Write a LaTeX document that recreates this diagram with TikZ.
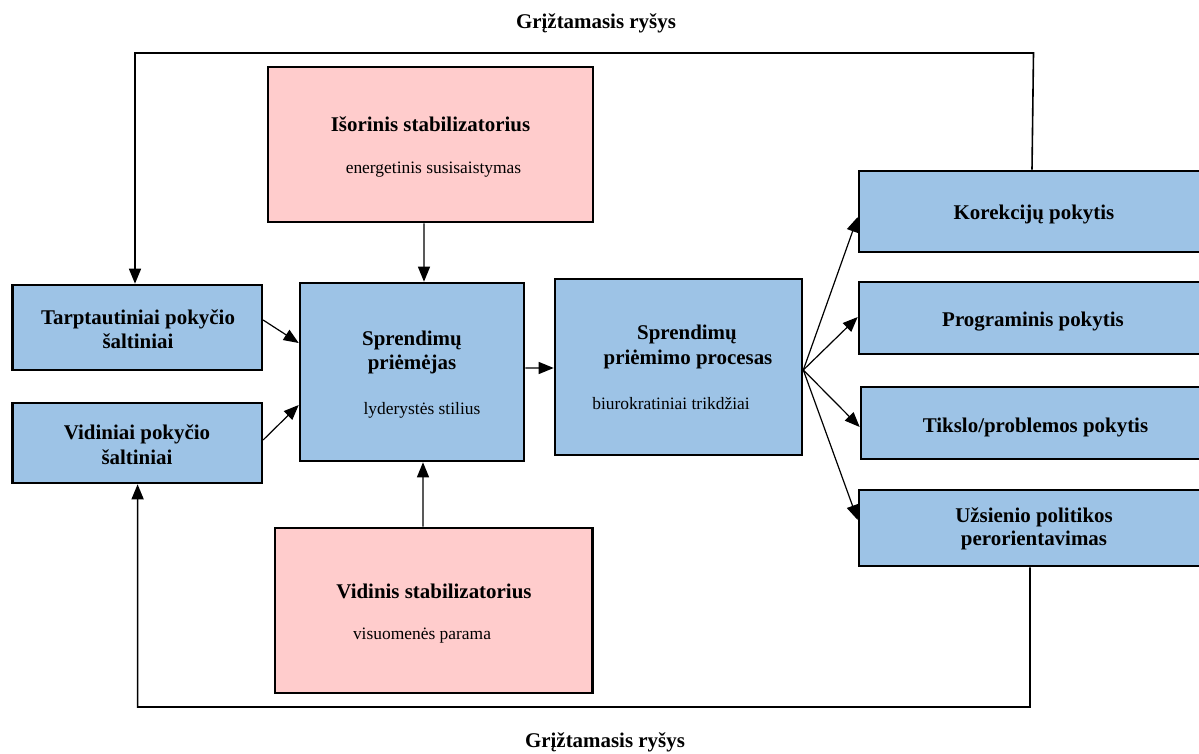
\documentclass[tikz,border=0pt]{standalone}
\usepackage{fontspec}
\setmainfont{Liberation Serif}
\usetikzlibrary{arrows.meta}
\definecolor{boxblue}{RGB}{157,195,230}
\definecolor{boxpink}{RGB}{255,204,204}
\tikzset{
  bluebox/.style={draw=black, line width=2.6bp, fill=boxblue, inner sep=0pt},
  pinkbox/.style={draw=black, line width=2.6bp, fill=boxpink, inner sep=0pt},
  ttl/.style={font=\fontsize{21}{24}\selectfont\bfseries, inner sep=0pt, anchor=base},
  sub/.style={font=\fontsize{17.5}{20}\selectfont, inner sep=0pt, anchor=base},
  arr/.style={line width=1.2bp, -{Triangle[length=15bp,width=12bp]}},
  fbline/.style={line width=1.6bp, -{Triangle[length=15bp,width=12bp]}}
}
\begin{document}
\begin{tikzpicture}[x=1bp,y=-1bp]
\clip (0,0) rectangle (1199,754);
\fill[white] (0,0) rectangle (1199,754);

% boxes
\node[pinkbox, minimum width=325bp, minimum height=155bp] (isor) at (430.5,144.5) {};
\node[bluebox, minimum width=249bp, minimum height=85bp] (tarp) at (137.3,327.5) {};
\node[bluebox, minimum width=249bp, minimum height=80bp] (vidp) at (137.3,443) {};
\node[bluebox, minimum width=224bp, minimum height=178bp] (prie) at (412,372) {};
\node[bluebox, minimum width=247bp, minimum height=176bp] (proc) at (678.5,367) {};
\node[pinkbox, minimum width=317.5bp, minimum height=165bp] (vids) at (433.75,610.5) {};
\node[bluebox, minimum width=350bp, minimum height=81bp] (kor) at (1034,211.5) {};
\node[bluebox, minimum width=350bp, minimum height=72bp] (prog) at (1034,318) {};
\node[bluebox, minimum width=348bp, minimum height=72bp] (tiks) at (1035,423) {};
\node[bluebox, minimum width=350bp, minimum height=76bp] (uzs) at (1034,528) {};

% texts
\node[ttl] (tfbtop) at (596,29) {Grįžtamasis ryšys};
\node[ttl] (tfbbot) at (605,747) {Grįžtamasis ryšys};
\node[ttl] (tisor) at (430.5,131) {Išorinis stabilizatorius};
\node[sub] (sisor) at (433.5,173) {energetinis susisaistymas};
\node[ttl] (ttarp1) at (138,324) {Tarptautiniai pokyčio};
\node[ttl] (ttarp2) at (138,348) {šaltiniai};
\node[ttl] (tvidp1) at (137,439) {Vidiniai pokyčio};
\node[ttl] (tvidp2) at (137,464) {šaltiniai};
\node[ttl] (tprie1) at (412,345) {Sprendimų};
\node[ttl] (tprie2) at (412,369) {priėmėjas};
\node[sub] (sprie) at (422,414) {lyderystės stilius};
\node[ttl] (tproc1) at (687,339) {Sprendimų};
\node[ttl] (tproc2) at (688,364) {priėmimo procesas};
\node[sub] (sproc) at (671,409) {biurokratiniai trikdžiai};
\node[ttl] (tvids) at (434,598) {Vidinis stabilizatorius};
\node[sub] (svids) at (422,639) {visuomenės parama};
\node[ttl] (tkor) at (1034,219) {Korekcijų pokytis};
\node[ttl] (tprog) at (1033,326) {Programinis pokytis};
\node[ttl] (ttiks) at (1035.5,432) {Tikslo/problemos pokytis};
\node[ttl] (tuzs1) at (1034,522) {Užsienio politikos};
\node[ttl] (tuzs2) at (1034,545) {perorientavimas};

% connectors
\draw[arr] ([xshift=-6.5bp]isor.south) -- ([xshift=12bp]prie.north);
\draw[arr] ([xshift=-10.75bp]vids.north) -- ([xshift=11bp]prie.south);
\draw[arr] ([yshift=7.5bp]tarp.east) -- ([yshift=29bp]prie.west);
\draw[arr] ([yshift=3bp]vidp.east) -- ([yshift=-33bp]prie.west);
\draw[arr] ([yshift=4bp]prie.east) -- ([yshift=-1bp]proc.west);

\coordinate (fan) at ([yshift=-3bp]proc.east);
\draw[arr] (fan) -- ([yshift=-5.5bp]kor.west);
\draw[arr] (fan) -- ([yshift=1bp]prog.west);
\draw[arr] (fan) -- ([yshift=-4bp]tiks.west);
\draw[arr] (fan) -- ([yshift=8bp]uzs.west);

% feedback loops
\coordinate (fbr) at (1033.5,53);
\coordinate (fbl) at (135,53);
\draw[fbline] ([xshift=-2bp]kor.north) -- (fbr) -- (fbl) -- (fbl |- tarp.north);
\coordinate (fbbr) at (1030,707);
\coordinate (fbbl) at (137.6,707);
\draw[fbline] ([xshift=-4bp]uzs.south) -- (fbbr) -- (fbbl) -- (fbbl |- vidp.south);
\end{tikzpicture}
\end{document}
